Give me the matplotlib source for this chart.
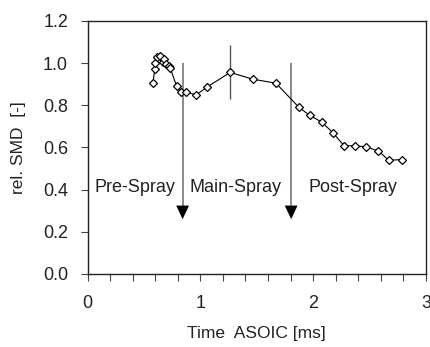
import numpy as np
import matplotlib
matplotlib.use('Agg')
import matplotlib.pyplot as plt

plt.rcParams['font.family'] = ['Liberation Sans', 'DejaVu Sans']

# gemessene Punkte (rel. SMD ueber Zeit nach Spritzbeginn)
time_ms = [0.58, 0.595, 0.60, 0.62, 0.64, 0.665, 0.675, 0.70, 0.72, 0.735,
           0.79, 0.825, 0.87, 0.965, 1.06, 1.265, 1.465, 1.67, 1.875, 1.97,
           2.075, 2.173, 2.274, 2.369, 2.471, 2.578, 2.672, 2.785]
rel_smd = [0.905, 0.97, 1.0, 1.03, 1.035, 1.005, 1.02, 0.995, 0.985, 0.975,
           0.89, 0.862, 0.862, 0.85, 0.887, 0.956, 0.924, 0.905, 0.79, 0.752,
           0.721, 0.671, 0.608, 0.608, 0.603, 0.583, 0.539, 0.543]

# Fehlerbalken
err_x = 1.265
err_y = 0.956
err_dy = 0.128

# Phasengrenzen (Pfeile)
arrow_x = [0.843, 1.805]
arrow_top = 1.0
arrow_tip = 0.26

phase_labels = ['Pre-Spray', 'Main-Spray', 'Post-Spray']
phase_x = [0.065, 0.905, 1.955]
phase_y = 0.41

fig = plt.figure(figsize=(4.3, 3.47), dpi=100)
ax = fig.add_axes([0.2035, 0.2104, 0.7872, 0.7291])

ax.plot(time_ms, rel_smd, color='black', lw=0.8, marker='D', ms=3.8,
        mfc='white', mec='black', mew=0.9, zorder=3)
ax.vlines(err_x, err_y - err_dy, err_y + err_dy, color='#555555', lw=1.0, zorder=2)

for xa in arrow_x:
    ax.vlines(xa, arrow_tip + 0.05, arrow_top, color='#777777', lw=1.2, zorder=2)
    ax.annotate('', xy=(xa, arrow_tip), xytext=(xa, arrow_tip + 0.09),
                arrowprops=dict(arrowstyle='-|>,head_width=0.33,head_length=0.7',
                                color='black', lw=0, shrinkA=0, shrinkB=0,
                                mutation_scale=14))

for lab, xp in zip(phase_labels, phase_x):
    ax.text(xp, phase_y, lab, fontsize=13, color='#222222', va='center', ha='left')

ax.set_xlim(0, 3)
ax.set_ylim(0, 1.2)
ax.set_xticks([0, 1, 2, 3])
ax.set_xticks(np.arange(0, 3.01, 0.2), minor=True)
ax.set_yticks(np.arange(0, 1.21, 0.2))
ax.set_yticklabels(['%.1f' % v for v in np.arange(0, 1.21, 0.2)])
ax.tick_params(axis='both', which='both', direction='out', length=5, width=0.8,
               labelsize=13, labelcolor='#222222', color='#444444')
ax.tick_params(axis='y', pad=9)
ax.tick_params(axis='x', pad=10)

for s in ax.spines.values():
    s.set_linewidth(1.0)
    s.set_color('#222222')

ax.set_xlabel('Time  ASOIC [ms]', fontsize=12.5, color='#222222', labelpad=10)
ax.set_ylabel('rel. SMD  [-]', fontsize=12.5, color='#222222', labelpad=12)

fig.savefig('out.png', dpi=100)
